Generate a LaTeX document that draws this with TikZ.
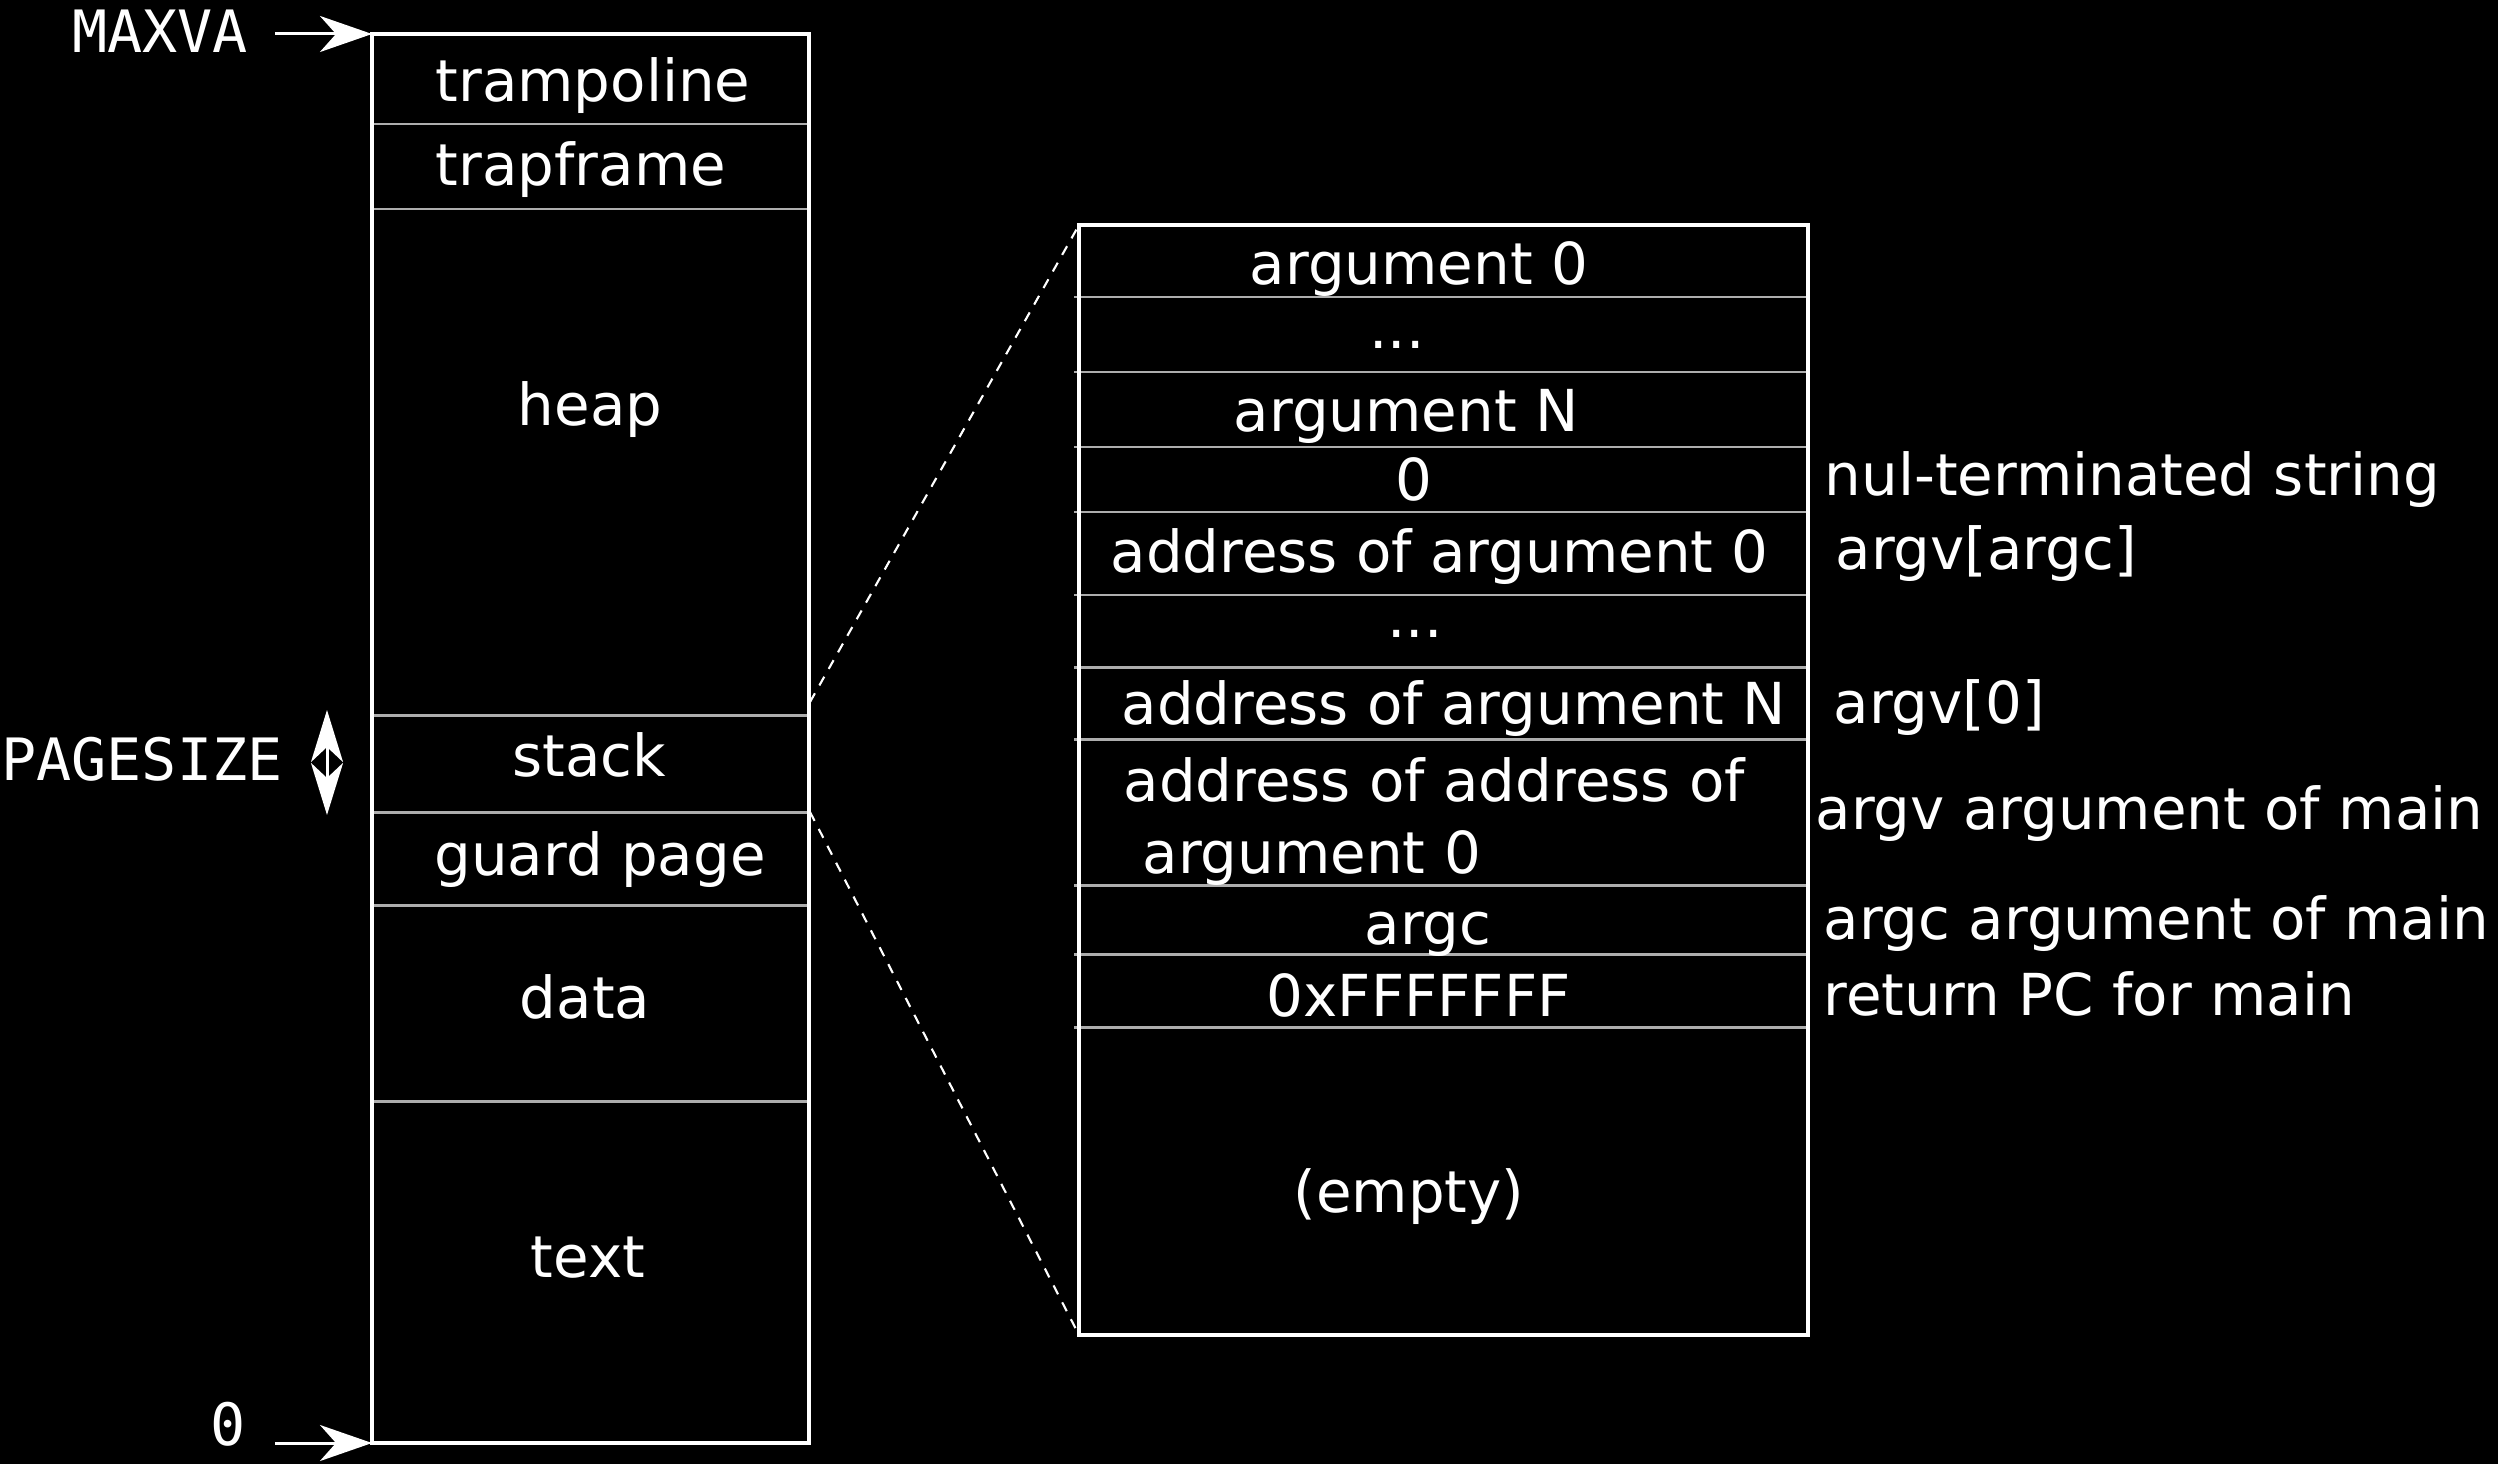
\documentclass[tikz,border=0pt]{standalone}
\usepackage{fontspec}
\setmainfont{DejaVu Sans}
\newfontfamily\monofont{DejaVu Sans Mono}
\usetikzlibrary{arrows.meta}
\definecolor{divgray}{gray}{0.68}
\begin{document}
\begin{tikzpicture}[x=0.01cm,y=-0.01cm,
  txt/.style={text=white,inner sep=0pt,font=\fontsize{16.45pt}{20.4pt}\selectfont},
  lbl/.style={txt,anchor=base west},
  cell/.style={txt,anchor=base},
  mono/.style={text=white,inner sep=0pt,anchor=base,font=\monofont\fontsize{16.6pt}{20.4pt}\selectfont},
  outline/.style={draw=white,line width=1pt},
  divider/.style={draw=divgray,line width=0.85pt},
  ptr/.style={draw=white,line width=0.85pt,-{Stealth[length=0.52cm,width=0.36cm,inset=0.16cm]}},
  dblptr/.style={draw=white,line width=0.85pt,{Stealth[length=0.52cm,width=0.32cm,inset=0.15cm]}-{Stealth[length=0.52cm,width=0.32cm,inset=0.15cm]}},
  zoomline/.style={draw=white,line width=0.6pt,dash pattern=on 0.1cm off 0.09cm}]
\fill[black] (0,0) rectangle (2498,1464);
\useasboundingbox (0,0) rectangle (2498,1464);

% ---------- left box: address space ----------
\coordinate (LTL) at (372,34);
\coordinate (LBR) at (809,1443);
\coordinate (LBL) at (372,1443);
\foreach \yy in {124,209,715,812,905,1101}
  \draw[divider] (372,\yy) -- (809,\yy);
\draw[outline] (LTL) rectangle (LBR);

\node[cell] (tramp) at (593,102) {trampoline};
\node[cell] (trapf) at (581,186) {trapframe};
\node[cell] (heap)  at (590,425) {heap};
\node[cell] (stack) at (589,776) {stack};
\node[cell] (guard) at (600,875) {guard page};
\node[cell] (data)  at (585,1018) {data};
\node[cell] (textseg) at (588,1277) {text};

% ---------- left labels ----------
\node[mono] (maxva) at (160,53) {MAXVA};
\node[mono] (pagesize) at (142,780) {PAGESIZE};
\node[mono] (zero) at (228,1445) {0};
\coordinate (maxvaTail) at (275,34);
\coordinate (zeroTail) at (275,1443);
\draw[ptr] (maxvaTail) -- (LTL);
\draw[ptr] (zeroTail) -- (LBL);
\coordinate (psTop) at (327,710);
\coordinate (psBot) at (327,815);
\draw[dblptr] (psTop) -- (psBot);

% ---------- right box: stack detail ----------
\coordinate (RTL) at (1079,225);
\coordinate (RBR) at (1808,1335);
\coordinate (RBL) at (1079,1335);
\foreach \yy in {297,372,447,512,595,667,739,885,954,1027}
  \draw[divider] (1074,\yy) -- (1810,\yy);
\draw[outline] (RTL) rectangle (RBR);

\node[cell] (arg0)   at (1419,285) {argument 0};
\node[cell] (dots1)  at (1397,349) {...};
\node[cell] (argN)   at (1406,432) {argument N};
\node[cell] (nul)    at (1414,500) {0};
\node[lbl]  (addr0)  at (1110,572) {address of argument 0};
\node[cell] (dots2)  at (1415,637) {...};
\node[lbl]  (addrN)  at (1121,724) {address of argument N};
\node[lbl]  (aa1)    at (1123,801) {address of address of};
\node[lbl]  (aa2)    at (1142,873) {argument 0};
\node[cell] (argc)   at (1428,944) {argc};
\node[lbl]  (retpc)  at (1266,1016) {0xFFFFFFF};
\node[cell] (empty)  at (1409,1212) {(empty)};

% ---------- right labels ----------
\node[lbl] (l1) at (1824,495) {nul-terminated string};
\node[lbl] (l2) at (1835,569) {argv[argc]};
\node[lbl] (l3) at (1833,723) {argv[0]};
\node[lbl] (l4) at (1815,829) {argv argument of main};
\node[lbl] (l5) at (1823,939) {argc argument of main};
\node[lbl] (l6) at (1823,1015) {return PC for main};

% ---------- zoom lines ----------
\coordinate (stkTop) at (810,702);
\coordinate (stkBot) at (810,812);
\draw[zoomline] (stkTop) -- (RTL);
\draw[zoomline] (stkBot) -- (RBL);
\end{tikzpicture}
\end{document}
